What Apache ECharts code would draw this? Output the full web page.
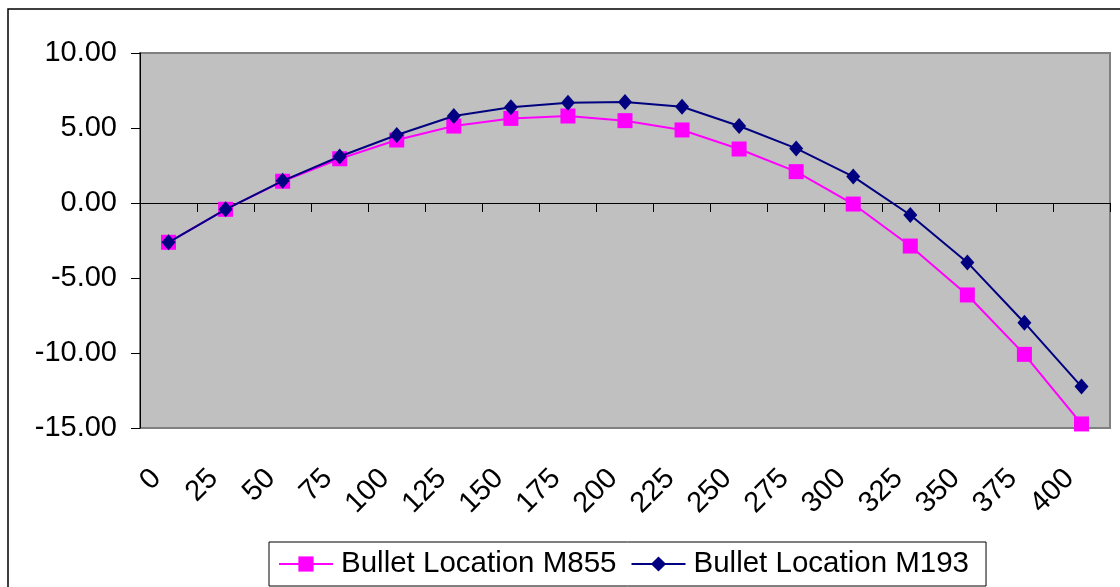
<!DOCTYPE html>
<html>
<head>
<meta charset="utf-8">
<script src="https://cdn.jsdelivr.net/npm/echarts@6/dist/echarts.min.js"></script>
<style>
html,body{margin:0;padding:0;background:#fff;}
#c{width:1120px;height:587px;}
</style>
</head>
<body>
<div id="c"></div>
<script>
// ---- data ----
const categories = ['0','25','50','75','100','125','150','175','200','225','250','275','300','325','350','375','400'];
const m855 = [-2.62, -0.42, 1.45, 2.95, 4.20, 5.13, 5.64, 5.80, 5.49, 4.87, 3.60, 2.09, -0.07, -2.87, -6.13, -10.09, -14.73];
const m193 = [-2.62, -0.42, 1.48, 3.10, 4.53, 5.80, 6.38, 6.69, 6.73, 6.42, 5.13, 3.64, 1.76, -0.80, -3.96, -7.98, -12.24];
const seriesNames = ['Bullet Location M855', 'Bullet Location M193'];
const yMin = -15, yMax = 10, yStep = 5;

const FONT = '"Liberation Sans", Arial, sans-serif';
const chart = echarts.init(document.getElementById('c'), null, {renderer: 'canvas'});

chart.setOption({
  animation: false,
  backgroundColor: '#ffffff',
  graphic: [{
    type: 'rect', silent: true, z: -10,
    shape: {x: 8, y: 9, width: 1200, height: 700},
    style: {fill: 'none', stroke: '#000000', lineWidth: 1.5}
  }],
  grid: {
    left: 140, top: 53, width: 970, height: 375,
    show: true, backgroundColor: '#C0C0C0', borderColor: '#808080', borderWidth: 2,
    containLabel: false
  },
  legend: {
    data: seriesNames,
    left: 269, top: 542,
    orient: 'horizontal',
    itemWidth: 54, itemHeight: 19, itemGap: 14,
    padding: [7, 17, 7, 9],
    borderColor: '#000000', borderWidth: 1,
    textStyle: {fontFamily: FONT, fontSize: 29.5, color: '#000000', padding: [0, 0, 0, 3]}
  },
  xAxis: [{
    type: 'category', data: categories, position: 'bottom', boundaryGap: true,
    axisLine: {show: false, onZero: false},
    axisTick: {show: false},
    splitLine: {show: false},
    axisLabel: {
      rotate: 45, interval: 0, margin: 34, padding: [0, 17, 34, 0],
      fontFamily: FONT, fontSize: 29, color: '#000000'
    }
  }, {
    type: 'category', data: categories, position: 'top', boundaryGap: true,
    axisLine: {show: true, onZero: true, lineStyle: {color: '#000000', width: 1}},
    axisTick: {show: true, inside: true, length: 9, lineStyle: {color: '#000000', width: 1}},
    axisLabel: {show: false},
    splitLine: {show: false}
  }],
  yAxis: {
    type: 'value', min: yMin, max: yMax, interval: yStep,
    axisLine: {show: true, onZero: false, lineStyle: {color: '#000000', width: 1}},
    axisTick: {show: true, length: 9, lineStyle: {color: '#000000', width: 1}},
    splitLine: {show: false},
    axisLabel: {
      margin: 23, fontFamily: FONT, fontSize: 29, color: '#000000',
      formatter: v => v.toFixed(2)
    }
  },
  series: [{
    name: seriesNames[0], type: 'line', data: m855, xAxisIndex: 0,
    symbol: 'rect', symbolSize: 15,
    lineStyle: {color: '#FF00FF', width: 2},
    itemStyle: {color: '#FF00FF'},
    z: 2
  }, {
    name: seriesNames[1], type: 'line', data: m193, xAxisIndex: 0,
    symbol: 'diamond', symbolSize: [14, 16],
    lineStyle: {color: '#000080', width: 2},
    itemStyle: {color: '#000080'},
    z: 3
  }]
});
</script>
</body>
</html>
